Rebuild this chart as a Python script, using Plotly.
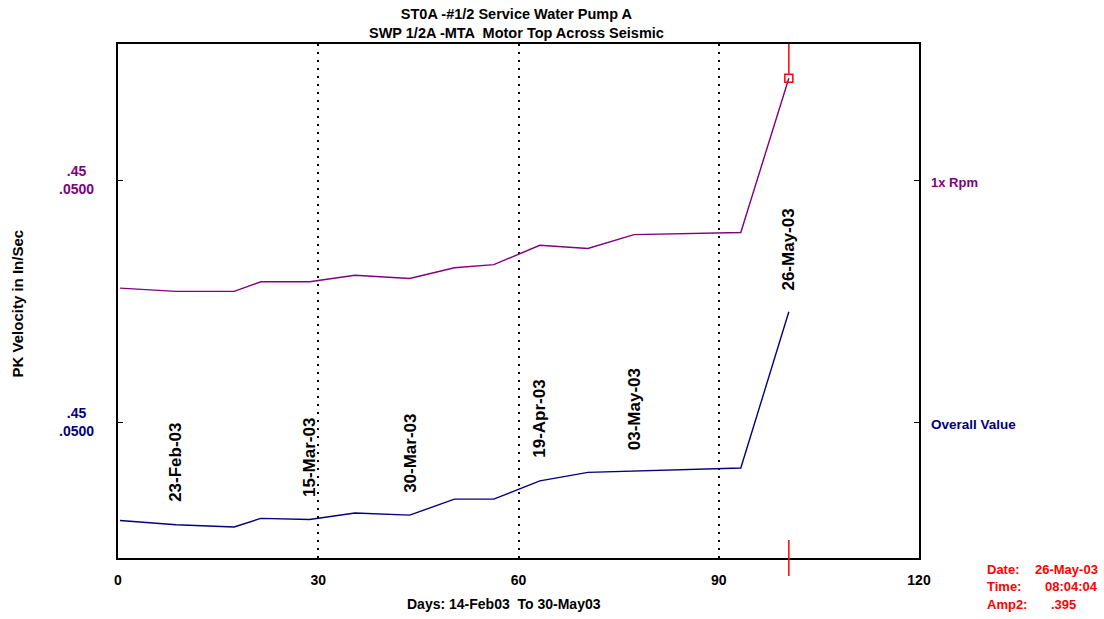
import plotly.graph_objects as go

# ---- data ----
days = [0.3, 8.7, 17.4, 21.4, 28.7, 35.5, 43.7, 50.4, 56.3, 63.2, 70.4, 77.3, 93.3, 100.5]
overall_value = [0.208, 0.204, 0.202, 0.210, 0.209, 0.215, 0.213, 0.228, 0.228,
                 0.245, 0.253, 0.254, 0.257, 0.403]
rpm_1x = [0.199, 0.196, 0.196, 0.205, 0.205, 0.211, 0.208, 0.218, 0.221,
          0.239, 0.236, 0.249, 0.251, 0.395]
date_labels = ["23-Feb-03", "15-Mar-03", "30-Mar-03", "19-Apr-03", "03-May-03", "26-May-03"]
date_label_days = [8.7, 28.7, 43.7, 63.2, 77.3, 100.5]
date_label_values = [0.204, 0.209, 0.213, 0.245, 0.254, 0.403]
x_ticks = [0, 30, 60, 90, 120]
ref_level = 0.30
ref_label = ".45<br>.0500"
cursor_info = [("Date:", "26-May-03"), ("Time:", "08:04:04"), ("Amp2:", ".395")]

NAVY = "#000080"
PURPLE = "#800080"
RED = "#FF0000"
FONT = "Liberation Sans, Arial, sans-serif"

fig = go.Figure()
fig.add_trace(go.Scatter(x=days, y=overall_value, mode="lines",
                         line=dict(color=NAVY, width=1.4), yaxis="y", showlegend=False))
fig.add_trace(go.Scatter(x=days, y=rpm_1x, mode="lines",
                         line=dict(color=PURPLE, width=1.4), yaxis="y2", showlegend=False))
# cursor marker on last 1x Rpm point
fig.add_trace(go.Scatter(x=[days[-1]], y=[rpm_1x[-1]], mode="markers",
                         marker=dict(symbol="square-open", size=8, color=RED, line=dict(width=1.5, color=RED)),
                         yaxis="y2", showlegend=False, cliponaxis=False))

# cursor lines
cursor_day = days[-1]
fig.add_shape(type="line", xref="x", yref="paper", x0=cursor_day, x1=cursor_day, y0=1.0, y1=0.942,
              line=dict(color=RED, width=1.5))
fig.add_shape(type="line", xref="x", yref="paper", x0=cursor_day, x1=cursor_day, y0=0.035, y1=-0.035,
              line=dict(color=RED, width=1.5))

# date labels
for d, v, t in zip(date_label_days, date_label_values, date_labels):
    fig.add_annotation(x=d, y=v, xref="x", yref="y", text="<b>" + t + "</b>", showarrow=False,
                       textangle=-90, xanchor="center", yanchor="middle", yshift=62,
                       font=dict(family=FONT, size=17, color="black"))

# left reference labels
fig.add_annotation(x=-0.0512, y=ref_level, xref="paper", yref="y2", text="<b>" + ref_label + "</b>",
                   showarrow=False, xanchor="center", yanchor="middle",
                   font=dict(family=FONT, size=14, color=PURPLE))
fig.add_annotation(x=-0.0512, y=ref_level, xref="paper", yref="y", text="<b>" + ref_label + "</b>",
                   showarrow=False, xanchor="center", yanchor="middle",
                   font=dict(family=FONT, size=14, color=NAVY))
# right series labels
fig.add_annotation(x=1.0125, y=ref_level, xref="paper", yref="y2", text="<b>1x Rpm</b>",
                   showarrow=False, xanchor="left", yanchor="middle", yshift=-2,
                   font=dict(family=FONT, size=13, color=PURPLE))
fig.add_annotation(x=1.0125, y=ref_level, xref="paper", yref="y", text="<b>Overall Value</b>",
                   showarrow=False, xanchor="left", yanchor="middle", yshift=-2,
                   font=dict(family=FONT, size=13.5, color=NAVY))

# axis titles / main title
fig.add_annotation(x=0.482, y=-0.09, xref="paper", yref="paper", text="<b>Days: 14-Feb03  To 30-May03</b>",
                   showarrow=False, xanchor="center", yanchor="middle",
                   font=dict(family=FONT, size=14, color="black"))
fig.add_annotation(x=-0.125, y=0.495, xref="paper", yref="paper", text="<b>PK Velocity in In/Sec</b>",
                   showarrow=False, textangle=-90, xanchor="center", yanchor="middle",
                   font=dict(family=FONT, size=15, color="black"))
fig.add_annotation(x=0.498, y=1.040, xref="paper", yref="paper",
                   text="<b>ST0A -#1/2 Service Water Pump A</b><br><b>SWP 1/2A -MTA  Motor Top Across Seismic</b>",
                   showarrow=False, xanchor="center", yanchor="middle",
                   font=dict(family=FONT, size=14.5, color="black"))

# cursor info (bottom right)
for i, (k, v) in enumerate(cursor_info):
    yy = -0.022 - i * 0.034
    fig.add_annotation(x=1.083, y=yy, xref="paper", yref="paper", text="<b>" + k + "</b>",
                       showarrow=False, xanchor="left", yanchor="middle",
                       font=dict(family=FONT, size=13, color=RED))
    fig.add_annotation(x=1.2265 if i < 2 else 1.18, y=yy, xref="paper", yref="paper", text="<b>" + v + "</b>",
                       showarrow=False, xanchor="right" if i < 2 else "center", yanchor="middle",
                       font=dict(family=FONT, size=13, color=RED))

k = 0.48 / 514
fig.update_layout(
    width=1104, height=619,
    margin=dict(l=118, r=185, t=44, b=61),
    paper_bgcolor="white", plot_bgcolor="white",
    font=dict(family=FONT, color="black"),
    xaxis=dict(range=[0, 120], tickvals=x_ticks, ticktext=["<b>%d</b>" % t for t in x_ticks],
               tickfont=dict(size=14, family=FONT, color="black"), ticks="",
               showgrid=True, gridcolor="black", gridwidth=1.5, griddash="2px,6px",
               showline=True, linecolor="black", linewidth=2, mirror=True,
               zeroline=False, ticklabelstandoff=8),
    yaxis=dict(range=[ref_level - 136 * k, ref_level + 378 * k], tickvals=[ref_level],
               showticklabels=False, ticks="inside", ticklen=5, tickcolor="black", tickwidth=1.2,
               showgrid=False, zeroline=False, showline=True, linecolor="black", linewidth=2,
               mirror="ticks"),
    yaxis2=dict(range=[ref_level - 378 * k, ref_level + 136 * k], tickvals=[ref_level],
                overlaying="y", side="left", anchor="x",
                showticklabels=False, ticks="inside", ticklen=5, tickcolor="black", tickwidth=1.2,
                showgrid=False, zeroline=False, showline=True, linecolor="black", linewidth=2,
                mirror="ticks"),
)

fig.write_html("out.html")
